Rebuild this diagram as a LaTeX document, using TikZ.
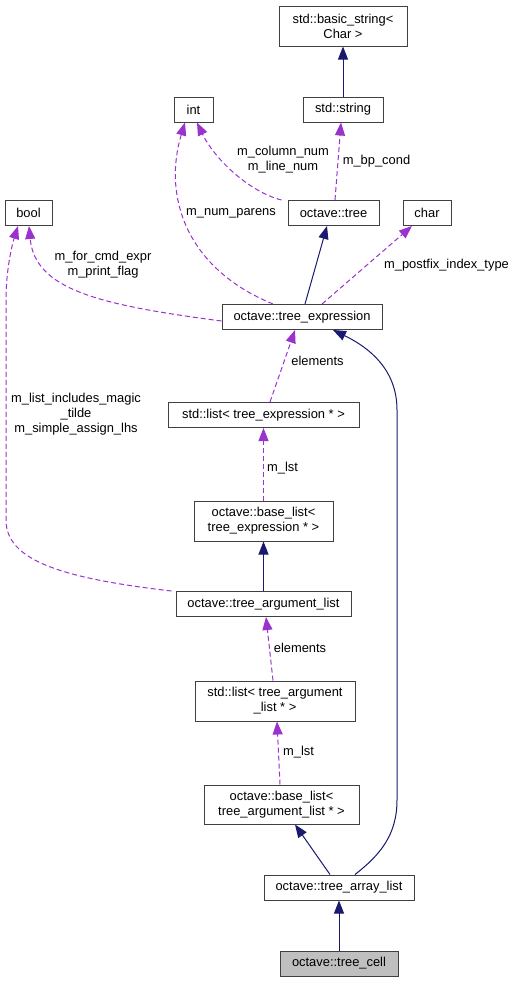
\documentclass[tikz,border=0pt]{standalone}
\usepackage{fontspec}
\setmainfont{Liberation Sans}
\usetikzlibrary{arrows.meta}
\definecolor{inhcol}{HTML}{191970}
\definecolor{usecol}{HTML}{9A32CD}
\definecolor{boxcol}{HTML}{404040}

\begin{document}
\begin{tikzpicture}[x=1pt,y=-1pt,
  font=\fontsize{12.9}{15}\selectfont,
  cls/.style={draw=boxcol,line width=1pt,inner sep=0pt,minimum height=25pt,align=center},
  inh/.style={draw=inhcol,line width=1pt,-{Triangle[length=13pt,width=10pt]}},
  uses/.style={draw=usecol,line width=1pt,dash pattern=on 5pt off 3pt,-{Triangle[length=13pt,width=10pt]}},
  lbl/.style={inner sep=0pt,align=center}]
  \useasboundingbox (0,0) rectangle (517,983);
  %top
  \node[cls,minimum width=128pt,minimum height=40pt] (bstr) at (343,26) {std::basic\_string\textless\\Char \textgreater};
  \node[cls,minimum width=39pt] (int) at (193.5,109.5) {int};
  \node[cls,minimum width=80pt] (str) at (343,109.5) {std::string};
  \node[cls,minimum width=47pt] (bool) at (28.5,213) {bool};
  \node[cls,minimum width=91pt] (tree) at (333.5,213) {octave::tree};
  \node[cls,minimum width=48pt] (char) at (427,213) {char};
  \node[cls,minimum width=160pt] (texpr) at (302,317) {octave::tree\_expression};
  %middle
  \node[cls,minimum width=191pt] (lste) at (263.5,415) {std::list\textless{} tree\_expression * \textgreater};
  \node[cls,minimum width=139pt,minimum height=40pt] (blste) at (263.5,521) {octave::base\_list\textless\\ tree\_expression * \textgreater};
  \node[cls,minimum width=175pt] (targ) at (263.5,604) {octave::tree\_argument\_list};
  %lower
  \node[cls,minimum width=160pt,minimum height=40pt] (lsta) at (275,701) {std::list\textless{} tree\_argument\\\_list * \textgreater};
  \node[cls,minimum width=155pt,minimum height=39pt] (blsta) at (281.5,804.5) {octave::base\_list\textless\\ tree\_argument\_list * \textgreater};
  \node[cls,minimum width=150pt] (tarr) at (339,887.5) {octave::tree\_array\_list};
  \node[cls,minimum width=118pt,fill={rgb,255:red,191;green,191;blue,191}] (tcell) at (339,963.5) {octave::tree\_cell};

  %edges
  \draw[inh] (str.north) -- (bstr.south);
  \draw[uses] ([xshift=-6pt]tree.north west) .. controls (250,192) and (215,160) .. ([xshift=3.5pt]int.south);
  \draw[uses] ([xshift=1.5pt]tree.north) -- ([xshift=-2pt]str.south);
  \draw[uses] ([xshift=-29pt]texpr.north) .. controls (185,268) and (163,195) .. ([xshift=-8.5pt]int.south);
  \draw[inh] ([xshift=3pt]texpr.north) -- ([xshift=-6.5pt]tree.south);
  \draw[uses] ([xshift=20pt]texpr.north) -- ([xshift=-15pt]char.south);
  \draw[uses] ([yshift=-4pt]texpr.west) .. controls (100,305) and (35,290) .. ([xshift=0.5pt]bool.south);
  \draw[uses] ([xshift=-4pt]targ.north west) .. controls (60,578) and (6,560) .. (6,520) -- (6,300) .. controls (6,270) and (12,245) .. ([xshift=-10.5pt]bool.south);
  \draw[uses] ([xshift=6.5pt]lste.north) -- ([xshift=-7pt]texpr.south);
  \draw[uses] (blste.north) -- (lste.south);
  \draw[inh] (targ.north) -- (blste.south);
  \draw[uses] ([xshift=-2pt]lsta.north) -- ([xshift=2.5pt]targ.south);
  \draw[uses] ([xshift=-1.5pt]blsta.north) -- ([xshift=2pt]lsta.south);
  \draw[inh] ([xshift=-9pt]tarr.north) -- ([xshift=13.5pt]blsta.south);
  \draw[inh] ([xshift=16pt]tarr.north) .. controls (380,855) and (397,835) .. (397,800) -- (397,410) .. controls (397,370) and (370,348) .. ([xshift=31pt]texpr.south);
  \draw[inh] (tcell.north) -- (tarr.south);

  %labels
  \node[lbl] (lcol) at (283,160) {m\_column\_num\\m\_line\_num};
  \node[lbl] (lbp) at (376.5,161) {m\_bp\_cond};
  \node[lbl] (lpar) at (231,213) {m\_num\_parens};
  \node[lbl] (lfor) at (103,264.5) {m\_for\_cmd\_expr\\m\_print\_flag};
  \node[lbl] (lpost) at (446.5,265) {m\_postfix\_index\_type};
  \node[lbl] (lel) at (317.5,361) {elements};
  \node[lbl] (lmag) at (76,414.5) {m\_list\_includes\_magic\\\_tilde\\m\_simple\_assign\_lhs};
  \node[lbl] (llst) at (282.5,468) {m\_lst};
  \node[lbl] (lel2) at (300,648) {elements};
  \node[lbl] (llst2) at (298.5,752) {m\_lst};
\end{tikzpicture}
\end{document}
